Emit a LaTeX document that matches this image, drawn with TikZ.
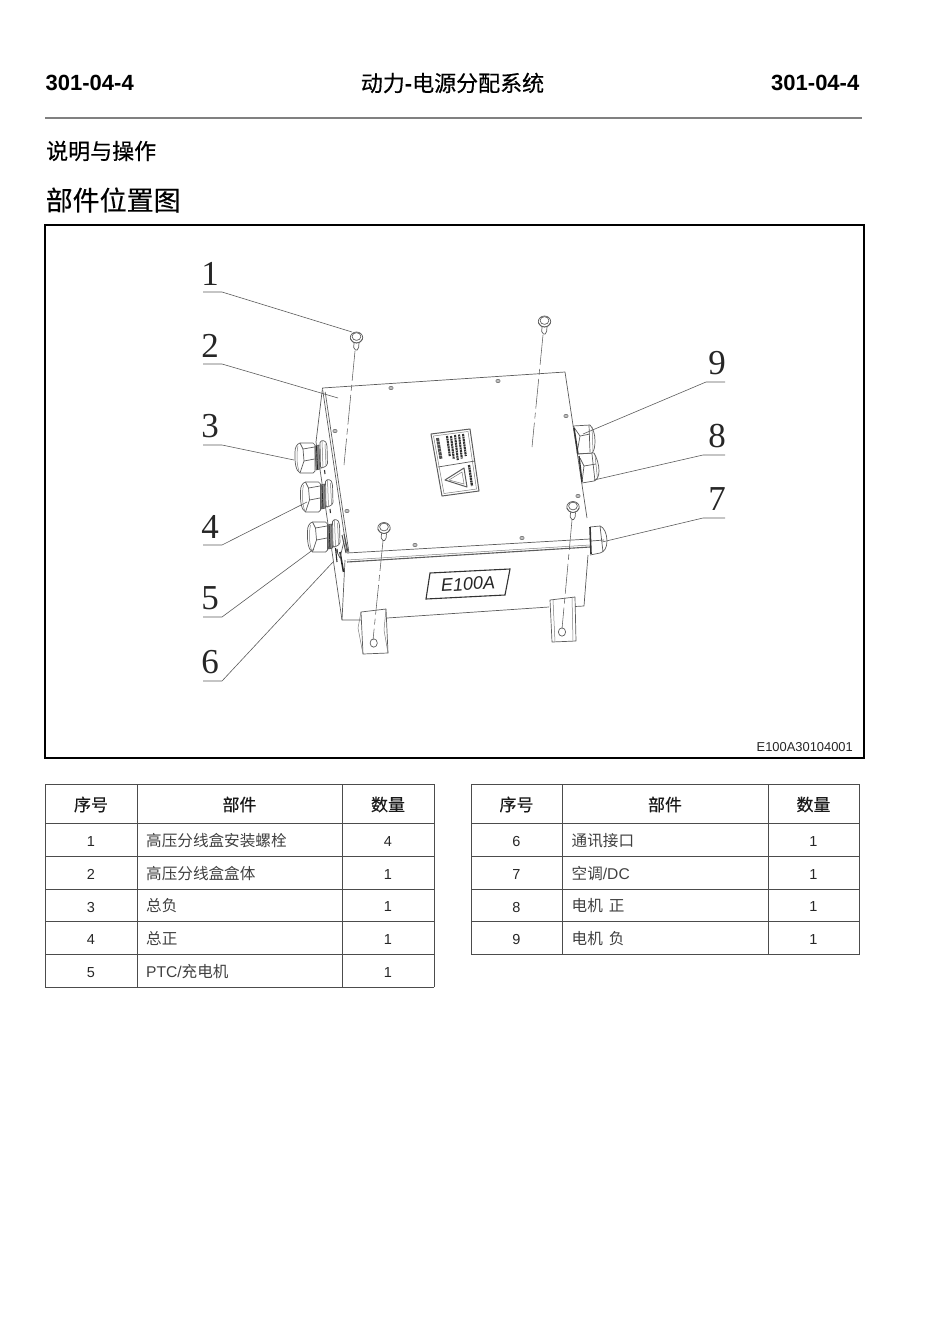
\documentclass[tikz,border=0pt]{standalone}
\usepackage{fontspec}
\setmainfont{Liberation Sans}
\newfontfamily\cjk{Noto Sans CJK SC}
\newfontfamily\cjkm[FakeBold=0.35]{Noto Sans CJK SC}
\newfontfamily\serifnum{Liberation Serif}
\newcommand{\fsz}[1]{\fontsize{#1}{#1}\selectfont}
\definecolor{ln}{gray}{0.36}
\definecolor{cjkgray}{gray}{0.25}
\tikzset{
  part/.style={draw=ln,line width=0.7pt,line join=round},
  thin part/.style={draw=ln!80,line width=0.5pt},
  dark part/.style={draw=black!80,line width=1.1pt},
  axisline/.style={draw=ln,line width=0.55pt,dash pattern=on 30pt off 4pt on 6pt off 4pt},
  leader/.style={draw=ln,line width=0.6pt},
  callout/.style={font=\serifnum\fsz{35},inner sep=0pt,text=black!85},
  hdr/.style={font=\bfseries\fsz{22},inner sep=0pt},
  gridline/.style={draw=black!70,line width=0.8pt},
  thead/.style={font=\cjkm\fsz{17},inner sep=0pt,text=black!90},
  tbody/.style={font=\cjk\fsz{15.6},inner sep=0pt,anchor=west,text=cjkgray},
  tnum/.style={font=\fsz{14.5},inner sep=0pt,text=black!85},
  gland/.pic={
    \draw[part] (-6,-15) -- (7,-15) -- (9,-13) -- (9,13) -- (7,15) -- (-6,15)
       .. controls (-10,13) and (-11.5,5) .. (-11,-6) .. controls (-11,-11) and (-9,-14) .. (-6,-15);
    \draw[thin part] (-8,-12) .. controls (-9.5,-5) and (-9.5,6) .. (-7,13);
    \draw[part] (-6,-15) -- (-3,-9) -- (8.5,-11);
    \draw[part] (-3,-9) -- (-2,3) -- (-6,15);
    \draw[part] (-2,3) -- (8.5,1);
    \draw[part,fill=black!45] (9,-12) -- (13,-13) -- (14,11) -- (10,12) -- cycle;
    \draw[black!85,line width=0.9pt] (10.5,-12) -- (11.5,11.5);
    \draw[thin part] (9.5,-4) -- (13.5,-5);
    \draw[thin part] (9.7,3) -- (13.7,2);
    \draw[part,fill=white,rounded corners=1.5pt] (14,-17) -- (19,-17.5) -- (21,-13) -- (21.5,7) -- (16.5,10) -- (14.5,10) -- cycle;
    \draw[thin part] (16,-17) -- (17,10);
    \draw[thin part] (19,-14) -- (20,7);
    \draw[dark part] (18.5,12) -- (19,16);
  },
  bolt/.pic={
    \draw[part] (0,0) ellipse (6.2 and 5.5);
    \draw[part] (0,-1) ellipse (4.4 and 3.9);
    \draw[part] (-6.2,1) .. controls (-4,7) and (4,7) .. (6.2,1);
    \draw[part] (-2.5,5.5) -- (-2.8,10) -- (-1,12.5) -- (0.6,12.5) -- (2.1,10) -- (2.5,5.5);
  }
}
\begin{document}
\begin{tikzpicture}[x=1pt,y=-1pt]
\useasboundingbox (0,0) rectangle (950,1344);
% header
\node[hdr,anchor=west] (pgl) at (45.5,83) {301-04-4};
\node[hdr,anchor=east] (pgr) at (859.5,83) {301-04-4};
\node[inner sep=0pt,font=\cjkm\fsz{22}] (ttl) at (452.5,83) {动力{\fontspec{Liberation Sans}\bfseries -}电源分配系统};
\coordinate (ruleA) at (45,118); \coordinate (ruleB) at (862,118);
\draw[black!50,line width=1.5pt] (ruleA) -- (ruleB);
\node[inner sep=0pt,anchor=west,font=\cjkm\fsz{22}] (sec) at (46,151) {说明与操作};
\node[inner sep=0pt,anchor=west,font=\cjkm\fsz{27}] (sub) at (45.5,200) {部件位置图};
% frame
\node[draw=black,line width=1.6pt,outer sep=0pt,minimum width=819pt,minimum height=533pt,anchor=north west,inner sep=0pt] (frame) at (45,225) {};
\node[inner sep=0pt,anchor=east,font=\fsz{12.9},text=black!85] (code) at (853,747) {E100A30104001};
% box top face and side
\draw[part] (322.5,388) -- (565,372) -- (587,518);
\draw[part] (322.5,388) -- (316,442);
\draw[part] (316,442) -- (342,620) -- (361,620);
\draw[part] (322.7,390) -- (347,553);
\draw[part] (325.2,392) -- (349,553);
\draw[part] (345,560) -- (342,620);
% front face
\draw[part] (347,553) -- (590,539);
\draw[part,line width=1.1pt] (347,562) -- (590,547);
\draw[thin part] (347,560) -- (590,545);
\draw[part] (588,555) -- (584,606) -- (575,606.5);
\draw[part] (387,618) -- (549,607);
% screw holes
\foreach \hx/\hy in {391/388,498/381,335/431,566/416,578/496,522/538,415/545,347/511}
  \draw[part,fill=black!25,line width=0.45pt] (\hx,\hy) ellipse (2.2 and 1.7);
% label plate
\draw[dark part,line width=1.1pt,fill=white] (430,573) -- (510,569) -- (505,595) -- (426,599) -- cycle;
\node[inner sep=0pt,rotate=3.5,font=\itshape\fsz{18},text=black!85] (plate) at (468,584) {E100A};
% warning label
\draw[part,line width=1pt] (431,434) -- (470,429) -- (479,491) -- (442,496) -- cycle;
\draw[thin part] (433.5,436) -- (468,431.5) -- (476.5,489) -- (444,493.5) -- cycle;
\draw[black!70,line width=3pt,dash pattern=on 3pt off 0.6pt] (437.5,438) -- (441,459);
\foreach \bx/\by/\bl in {447/436/20,451/436/23,455/435/25,459/434.5/24,463/434/22}
  \draw[black!80,line width=2.1pt,dash pattern=on 2pt off 0.6pt] (\bx,\by) -- ++(2.8,\bl);
\draw[part] (438,467) -- (475,461);
\draw[part,line width=1pt,fill=white] (445,480) -- (464,468) -- (467,487) -- cycle;
\draw[thin part] (449,480) -- (462,472) -- (464,484) -- cycle;
\draw[black!80,line width=2.3pt,dash pattern=on 2pt off 0.6pt] (469,465) -- (472,486);
% glands left
\pic at (306,458) {gland};
\pic at (311.5,497) {gland};
\pic at (318.5,537) {gland};
% connector (6)
\draw[black!85,line width=1.1pt] (335.5,548) -- (337,562);
\draw[black!85,line width=1.6pt] (340,552) -- (343.5,572);
\draw[black!70,line width=1pt] (342,535) -- (346,553);
\draw[black!70,line width=1pt] (344,534) -- (348,552);
\draw[part] (336,550) -- (340,558) -- (344,541);
% glands right
\draw[part] (573,426) -- (590,425) .. controls (593,428) and (595,434) .. (595,441) .. controls (595,447) and (594,451) .. (592,453) -- (577,454);
\draw[part] (589,425) -- (590,452);
\draw[thin part] (592,427) -- (593,451);
\draw[part] (573,426) -- (580,436) -- (590,434);
\draw[part] (580,436) -- (577,453);
\draw[dark part,line width=1.4pt] (574,428) -- (578,454);
\draw[part] (578,454) -- (594,453) .. controls (597,458) and (599,465) .. (599,471) .. controls (599,476) and (597,480) .. (594,481) -- (582,483);
\draw[part] (592,454) -- (595,481);
\draw[thin part] (595,455) -- (597.5,479);
\draw[part] (580,458) -- (584,466) -- (596,464);
\draw[part] (584,466) -- (582,482);
\draw[dark part,line width=1.4pt] (579,456) -- (582,482);
\draw[part] (590,527) -- (600,526) .. controls (604,527) and (607,534) .. (607,541) .. controls (607,548) and (604,552) .. (600,553) -- (590,555);
\draw[part] (600,526) -- (603,552);
\draw[part] (591,541) -- (604,540);
\draw[dark part,line width=1.6pt] (590,527) -- (591,554);
% brackets
\draw[part,fill=white] (361,612) -- (386,609) -- (388,653) -- (363,654) -- cycle;
\draw[thin part] (361,612) -- (358,628) -- (363,654);
\draw[thin part] (386,609) -- (384,630) -- (388,653);
\draw[part] (373.7,643) ellipse (3.6 and 4.2);
\draw[part,fill=white] (550,600) -- (575,597) -- (576,641) -- (552,642) -- cycle;
\draw[thin part] (553,600) -- (555,642);
\draw[thin part] (572,597) -- (573,641);
\draw[part] (562,632) ellipse (3.6 and 4.2);
% bolts and axes
\pic at (356.5,337.5) {bolt};
\pic at (544.5,321.5) {bolt};
\pic at (384,528) {bolt};
\pic at (573,507) {bolt};
\coordinate (a1) at (355,351); \coordinate (b1) at (344,465);
\coordinate (a2) at (543,335); \coordinate (b2) at (532,447);
\coordinate (a3) at (383,541); \coordinate (b3) at (373,640);
\coordinate (a4) at (572,520); \coordinate (b4) at (562,629);
\foreach \i in {1,2,3,4} \draw[axisline] (a\i) -- (b\i);
% callouts
\foreach \n/\y/\ax/\mx/\ex/\ey in {1/292/203/222/352/332,2/364/203/222/338/398,3/445/203/222/294/460,4/545/203/222/307/502,5/617/203/222/314/549,6/681/203/222/333/562}{
  \coordinate (la\n) at (\ax,\y); \coordinate (lb\n) at (\mx,\y); \coordinate (lc\n) at (\ex,\ey);
  \node[callout] (num\n) at (210,\y-18.5) {\n};
  \draw[leader] (la\n) -- (lb\n) -- (lc\n);
}
\foreach \n/\y/\ax/\mx/\ex/\ey in {9/382/725/706/583/434,8/455/725/703/594/480,7/518/725/703/602/542}{
  \coordinate (la\n) at (\ax,\y); \coordinate (lb\n) at (\mx,\y); \coordinate (lc\n) at (\ex,\ey);
  \node[callout] (num\n) at (717,\y-18.5) {\n};
  \draw[leader] (la\n) -- (lb\n) -- (lc\n);
}
% left table
\foreach \x in {45,137,342,434} \draw[gridline] (\x,784) -- (\x,987);
\foreach \y in {784,823,856,889,921.5,954.5,987} \draw[gridline] (45,\y) -- (434,\y);
\node[thead] (lh1) at (91,804.5) {序号};
\node[thead] (lh2) at (239.5,804.5) {部件};
\node[thead] (lh3) at (388,804.5) {数量};
\foreach \n/\y/\t/\q in {1/840.5/高压分线盒安装螺栓/4,2/873.5/高压分线盒盒体/1,3/906/总负/1,4/938.5/总正/1,5/971.5/{{\fontspec{Liberation Sans}PTC/}充电机}/1}{
  \node[tnum] (lno\n) at (91,\y+1) {\n};
  \node[tbody] (lna\n) at (146,\y) {\t};
  \node[tnum] (lqt\n) at (388,\y+1) {\q};
}
% right table
\foreach \x in {471,562,768,859} \draw[gridline] (\x,784) -- (\x,954.5);
\foreach \y in {784,823,856,889,921.5,954.5} \draw[gridline] (471,\y) -- (859,\y);
\node[thead] (rh1) at (516.5,804.5) {序号};
\node[thead] (rh2) at (665,804.5) {部件};
\node[thead] (rh3) at (813.5,804.5) {数量};
\foreach \n/\y/\t in {6/840.5/通讯接口,7/873.5/{空调{\fontspec{Liberation Sans}/DC}},8/906/电机\hspace{6pt}正,9/938.5/电机\hspace{6pt}负}{
  \node[tnum] (rno\n) at (516.5,\y+1) {\n};
  \node[tbody] (rna\n) at (571.5,\y) {\t};
  \node[tnum] (rqt\n) at (813.5,\y+1) {1};
}
\end{tikzpicture}
\end{document}
